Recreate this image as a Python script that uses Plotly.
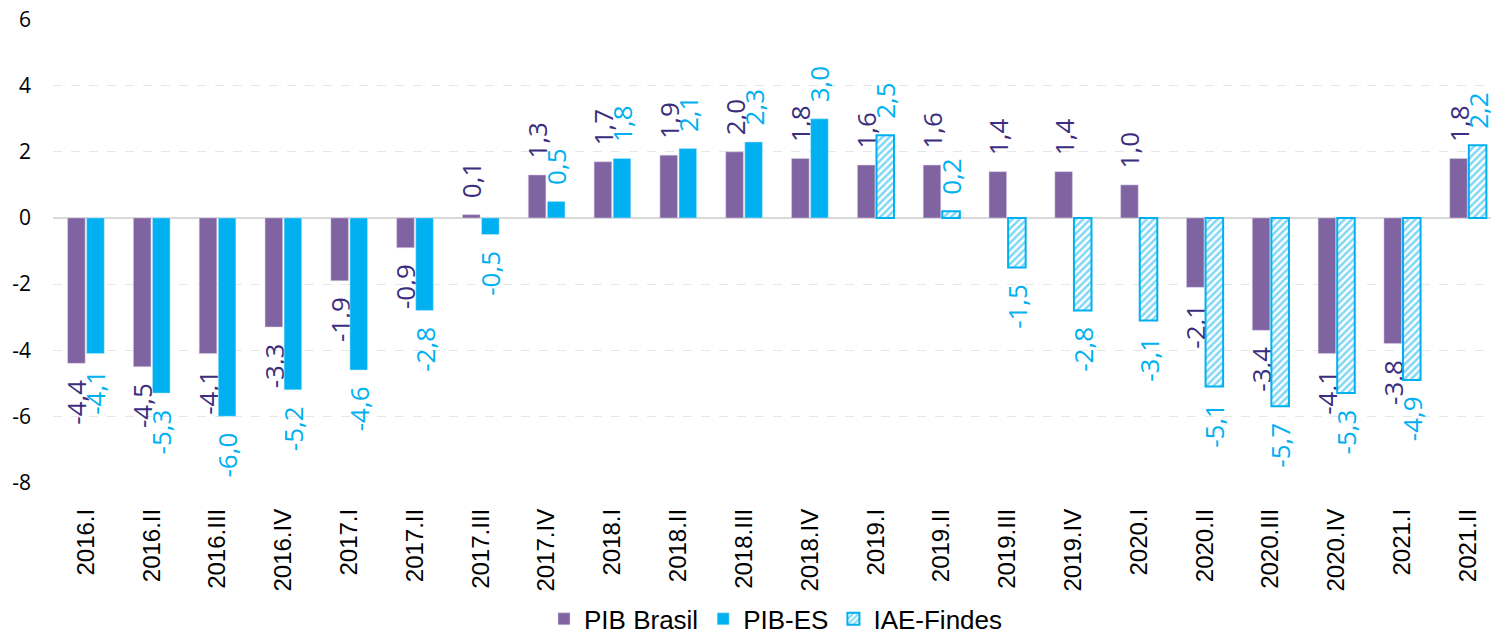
import plotly.graph_objects as go

# ===== dados =====
trimestres = [
    "2016.I", "2016.II", "2016.III", "2016.IV",
    "2017.I", "2017.II", "2017.III", "2017.IV",
    "2018.I", "2018.II", "2018.III", "2018.IV",
    "2019.I", "2019.II", "2019.III", "2019.IV",
    "2020.I", "2020.II", "2020.III", "2020.IV",
    "2021.I", "2021.II",
]
pib_brasil = [-4.4, -4.5, -4.1, -3.3, -1.9, -0.9, 0.1, 1.3, 1.7, 1.9, 2.0, 1.8,
              1.6, 1.6, 1.4, 1.4, 1.0, -2.1, -3.4, -4.1, -3.8, 1.8]
pib_es = [-4.1, -5.3, -6.0, -5.2, -4.6, -2.8, -0.5, 0.5, 1.8, 2.1, 2.3, 3.0,
          None, None, None, None, None, None, None, None, None, None]
iae_findes = [None] * 12 + [2.5, 0.2, -1.5, -2.8, -3.1, -5.1, -5.7, -5.3, -4.9, 2.2]
y_ticks = [-8, -6, -4, -2, 0, 2, 4, 6]
y_ticktext = ["-8", "-6", "-4", "-2", "0", "2", "4", "6"]

# ===== cores =====
ROXO = "#8064A2"
ROXO_TXT = "#3B2E7E"
CIANO = "#00B0F0"
GRADE = "#E6E6E6"

PAD = "\u00a0\u00a0"  # folga entre a barra e o rótulo


def rotulos(vals):
    out = []
    for v in vals:
        if v is None:
            out.append("")
            continue
        s = f"{v:.1f}".replace(".", ",")
        # texto girado -90: início fica embaixo, fim fica em cima
        out.append(PAD + s if v >= 0 else s + PAD)
    return out


common = dict(
    textposition="outside", textangle=-90, cliponaxis=False,
    constraintext="none",
)

fig = go.Figure()
fig.add_trace(go.Bar(
    x=trimestres, y=pib_brasil, name="PIB Brasil", offsetgroup="a",
    marker=dict(color=ROXO, line=dict(color="#D9D0E6", width=0.5)),
    text=rotulos(pib_brasil),
    textfont=dict(family="Open Sans", size=26, color=ROXO_TXT),
    **common,
))
fig.add_trace(go.Bar(
    x=trimestres, y=pib_es, name="PIB-ES", offsetgroup="b",
    marker=dict(color=CIANO, line=dict(color="#BDEBFB", width=0.5)),
    text=rotulos(pib_es),
    textfont=dict(family="Open Sans", size=26, color=CIANO),
    **common,
))
fig.add_trace(go.Bar(
    x=trimestres, y=iae_findes, name="IAE-Findes", offsetgroup="b",
    marker=dict(
        color="white", line=dict(color=CIANO, width=2),
        pattern=dict(shape="/", fgcolor=CIANO, bgcolor="white", size=5, solidity=0.5),
    ),
    text=rotulos(iae_findes),
    textfont=dict(family="Open Sans", size=26, color=CIANO),
    **common,
))

# a página tem 8px de margem no body: figura descontada disso
fig.update_layout(
    width=1491, height=626,
    margin=dict(l=45, r=0, t=11, b=151, autoexpand=False),
    paper_bgcolor="white", plot_bgcolor="white",
    barmode="group", bargap=0.42, bargroupgap=0.08,
    font=dict(family="Open Sans", color="#000000"),
    showlegend=True,
    legend=dict(
        orientation="h", x=0.5, xanchor="center", y=-0.293, yanchor="middle",
        font=dict(family="Liberation Sans", size=26, color="#000000"),
        traceorder="normal", itemwidth=30, bgcolor="rgba(0,0,0,0)",
    ),
)
fig.update_xaxes(
    type="category", range=[-0.5, 21.47], automargin=False,
    tickangle=-90, tickfont=dict(family="Liberation Sans", size=24, color="#000000"),
    showgrid=False, showline=False, ticks="", ticklabelstandoff=20,
)
fig.update_yaxes(
    range=[-8.02, 6.02], tickvals=y_ticks, ticktext=y_ticktext, automargin=False,
    tickfont=dict(family="Open Sans", size=21, color="#000000"),
    ticklabeloverflow="allow",
    showgrid=True, gridcolor=GRADE, griddash="dash", gridwidth=1,
    zeroline=True, zerolinecolor="#D9D9D9", zerolinewidth=2,
    ticks="", ticklabelstandoff=21,
)

fig.write_html("out.html")
